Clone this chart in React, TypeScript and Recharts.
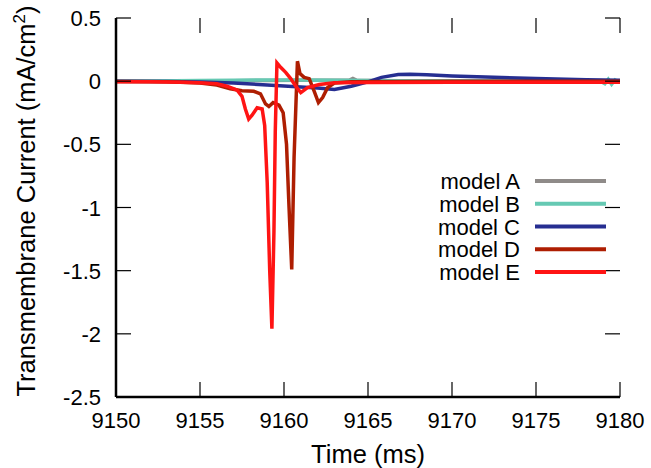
import { LineChart, Line, XAxis, YAxis, Label } from "recharts";

// time (ms) and transmembrane current (mA/cm^2)
const TIME_A = [9150, 9153, 9155, 9157, 9159, 9161, 9162.5, 9163.9, 9164.1, 9164.3, 9166, 9170, 9175.4, 9175.6, 9175.8, 9178, 9180];
const CURRENT_A = [0, 0, 0.002, 0.004, 0.006, 0.008, 0.008, 0.008, 0.022, 0.008, 0.004, 0.002, 0.002, 0.012, 0.002, 0, 0];

const TIME_B = [9150, 9152, 9155, 9157, 9159, 9161, 9163, 9165, 9167, 9170, 9175, 9178.8, 9179.1, 9179.3, 9179.5, 9179.7, 9180];
const CURRENT_B = [0, 0.002, 0.005, 0.008, 0.01, 0.01, 0.008, 0.006, 0.004, 0.003, 0.002, 0.002, -0.02, 0.015, -0.025, 0.01, -0.01];

const TIME_C = [9150, 9153, 9155, 9157, 9159, 9160.5, 9162, 9163, 9164, 9165, 9165.8, 9166.8, 9167.5, 9168.5, 9170, 9172, 9175, 9178, 9180];
const CURRENT_C = [0, -0.002, -0.006, -0.015, -0.03, -0.042, -0.055, -0.065, -0.04, -0.005, 0.03, 0.052, 0.055, 0.05, 0.04, 0.032, 0.022, 0.012, 0.008];

const TIME_D = [9150, 9153, 9155, 9156, 9156.8, 9157.5, 9158.2, 9158.6, 9158.9, 9159.1, 9159.35, 9159.7, 9159.95, 9160.15, 9160.3, 9160.46, 9160.6, 9160.8, 9160.95, 9161.2, 9161.5, 9161.8, 9162.05, 9162.3, 9162.6, 9163, 9164, 9170, 9180];
const CURRENT_D = [-0.003, -0.005, -0.015, -0.03, -0.06, -0.075, -0.08, -0.1, -0.18, -0.2, -0.17, -0.19, -0.25, -0.5, -1.0, -1.49, -0.6, 0.158, 0.06, 0.03, 0.02, -0.08, -0.17, -0.13, -0.05, -0.015, -0.005, 0, 0];

const TIME_E = [9150, 9152, 9154, 9155, 9156, 9156.6, 9157.2, 9157.5, 9157.7, 9157.9, 9158.1, 9158.4, 9158.7, 9158.85, 9159.0, 9159.15, 9159.28, 9159.4, 9159.48, 9159.58, 9159.8, 9160.1, 9160.4, 9160.7, 9161.0, 9161.4, 9162.1, 9163, 9165, 9170, 9175, 9180];
const CURRENT_E = [-0.005, -0.005, -0.008, -0.012, -0.02, -0.04, -0.07, -0.12, -0.22, -0.3, -0.27, -0.21, -0.22, -0.35, -0.8, -1.5, -1.96, -1.2, -0.4, 0.145, 0.11, 0.07, 0.02, -0.04, -0.09, -0.05, -0.026, -0.013, -0.01, -0.008, -0.008, -0.008];

const X_TICKS = [9150, 9155, 9160, 9165, 9170, 9175, 9180];
const Y_TICKS = [0.5, 0, -0.5, -1, -1.5, -2, -2.5];

const X_MIN = 9150;
const X_MAX = 9180;
const Y_MIN = -2.5;
const Y_MAX = 0.5;

// layout of the frame
const W = 651;
const H = 468;
const MARGIN = { top: 18, right: 31, bottom: 41, left: 56 };
const Y_AXIS_W = 60;
const X_AXIS_H = 30;
const PLOT_LEFT = MARGIN.left + Y_AXIS_W;
const PLOT_RIGHT = W - MARGIN.right;
const PLOT_TOP = MARGIN.top;
const PLOT_BOTTOM = H - MARGIN.bottom - X_AXIS_H;
const TICK_LEN = 15;

const FONT = "'Liberation Sans', Arial, Helvetica, sans-serif";

const toRows = (ts: number[], vs: number[]) => ts.map((t, i) => ({ t, v: vs[i] }));

const series = [
  { name: "model A", color: "#8f8b89", rows: toRows(TIME_A, CURRENT_A) },
  { name: "model B", color: "#66c9b3", rows: toRows(TIME_B, CURRENT_B) },
  { name: "model C", color: "#262e91", rows: toRows(TIME_C, CURRENT_C) },
  { name: "model D", color: "#ae1e02", rows: toRows(TIME_D, CURRENT_D) },
  { name: "model E", color: "#ff1414", rows: toRows(TIME_E, CURRENT_E) },
];

const frameStyle = { stroke: "#000", strokeWidth: 2.5 };

const BottomTick = ({ x, y, payload }: any) => (
  <text x={x} y={y + 31} textAnchor="middle" fontSize={22} fontFamily={FONT} fill="#000">
    {payload.value}
  </text>
);

const LeftTick = ({ x, y, payload }: any) => (
  <text x={x - 15} y={y + 8} textAnchor="end" fontSize={22} fontFamily={FONT} fill="#000">
    {String(payload.value)}
  </text>
);

// gnuplot-style inward tick marks on all four sides
const TickMarks = () => {
  const px = (t: number) => PLOT_LEFT + ((t - X_MIN) / (X_MAX - X_MIN)) * (PLOT_RIGHT - PLOT_LEFT);
  const py = (v: number) => PLOT_TOP + ((Y_MAX - v) / (Y_MAX - Y_MIN)) * (PLOT_BOTTOM - PLOT_TOP);
  return (
    <g stroke="#000" strokeWidth={1.2}>
      {X_TICKS.map((t) => (
        <g key={`x${t}`}>
          <line x1={px(t)} x2={px(t)} y1={PLOT_BOTTOM} y2={PLOT_BOTTOM - TICK_LEN} />
          <line x1={px(t)} x2={px(t)} y1={PLOT_TOP} y2={PLOT_TOP + TICK_LEN} />
        </g>
      ))}
      {Y_TICKS.map((v) => (
        <g key={`y${v}`}>
          <line x1={PLOT_LEFT} x2={PLOT_LEFT + TICK_LEN} y1={py(v)} y2={py(v)} />
          <line x1={PLOT_RIGHT} x2={PLOT_RIGHT - TICK_LEN} y1={py(v)} y2={py(v)} />
        </g>
      ))}
    </g>
  );
};

const LegendBox = () => (
  <g>
    {series.map((s, i) => {
      const cy = 181 + i * 22.75;
      return (
        <g key={s.name}>
          <text x={520} y={cy + 8} textAnchor="end" fontSize={22} fontFamily={FONT} fill="#000">
            {s.name}
          </text>
          <line x1={535} x2={606} y1={cy} y2={cy} stroke={s.color} strokeWidth={4} />
        </g>
      );
    })}
  </g>
);

const YTitle = () => (
  <text
    x={35}
    y={201}
    transform="rotate(-90 35 201)"
    textAnchor="middle"
    fontSize={25.5}
    fontFamily={FONT}
    fill="#000"
  >
    Transmembrane Current (mA/cm
    <tspan fontSize={17} dy={-10}>2</tspan>
    <tspan dy={10}>)</tspan>
  </text>
);

const XTitle = () => (
  <text x={368} y={463} textAnchor="middle" fontSize={25.5} fontFamily={FONT} fill="#000">
    Time (ms)
  </text>
);

export default function App() {
  return (
    <div style={{ position: "absolute", left: 0, top: 0, background: "#fff" }}>
      <LineChart width={W} height={H} margin={MARGIN}>
        <XAxis
          dataKey="t"
          type="number"
          domain={[X_MIN, X_MAX]}
          ticks={X_TICKS}
          interval={0}
          allowDataOverflow
          height={X_AXIS_H}
          tickSize={0}
          tickMargin={0}
          tick={<BottomTick />}
          axisLine={frameStyle}
          tickLine={false}
        >
          <Label content={<XTitle />} />
          <Label content={<TickMarks />} />
        </XAxis>
        <XAxis
          xAxisId="top"
          orientation="top"
          type="number"
          domain={[X_MIN, X_MAX]}
          height={0}
          tick={false}
          axisLine={frameStyle}
          tickLine={false}
        />
        <YAxis
          type="number"
          domain={[Y_MIN, Y_MAX]}
          ticks={Y_TICKS}
          interval={0}
          allowDataOverflow
          width={Y_AXIS_W}
          tickSize={0}
          tickMargin={0}
          tick={<LeftTick />}
          axisLine={frameStyle}
          tickLine={false}
        >
          <Label content={<YTitle />} />
          <Label content={<LegendBox />} />
        </YAxis>
        <YAxis
          yAxisId="right"
          orientation="right"
          type="number"
          domain={[Y_MIN, Y_MAX]}
          width={0}
          tick={false}
          axisLine={frameStyle}
          tickLine={false}
        />
        {series.map((s) => (
          <Line
            key={s.name}
            data={s.rows}
            dataKey="v"
            name={s.name}
            type="linear"
            stroke={s.color}
            strokeWidth={3.5}
            dot={false}
            activeDot={false}
            isAnimationActive={false}
          />
        ))}
      </LineChart>
    </div>
  );
}
